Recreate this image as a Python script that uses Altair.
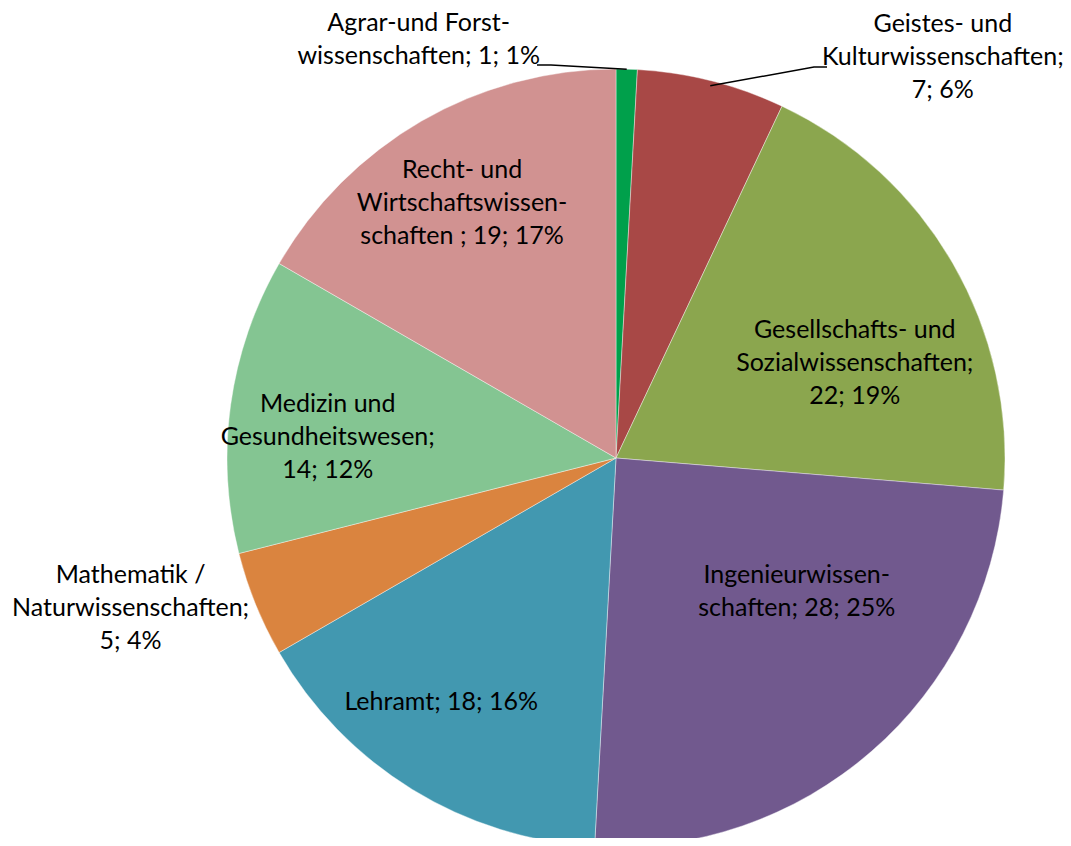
import altair as alt
import pandas as pd
import numpy as np

# ---- data ----
categories = [
    "Agrar- und Forstwissenschaften",
    "Geistes- und Kulturwissenschaften",
    "Gesellschafts- und Sozialwissenschaften",
    "Ingenieurwissenschaften",
    "Lehramt",
    "Mathematik / Naturwissenschaften",
    "Medizin und Gesundheitswesen",
    "Recht- und Wirtschaftswissenschaften",
]
values = [1, 7, 22, 28, 18, 5, 14, 19]
label_names = [
    "Agrar-und Forst-\nwissenschaften; ",
    "Geistes- und\nKulturwissenschaften;\n",
    "Gesellschafts- und\nSozialwissenschaften;\n",
    "Ingenieurwissen-\nschaften; ",
    "Lehramt; ",
    "Mathematik /\nNaturwissenschaften;\n",
    "Medizin und\nGesundheitswesen;\n",
    "Recht- und\nWirtschaftswissen-\nschaften ; ",
]
colors = ["#00A04B", "#A84846", "#8BA64E", "#71598E", "#4298B0", "#DA843F", "#84C592", "#D19291"]

# ---- layout ----
CX, CY, R = 608, 450, 389
LH = 33
label_angle_nudge = [-26.8, 25.0, 8.3, -12.4, 4.05, 4.95, -3.8, -1.1]   # degrees
label_radius = [463, 517, 257, 225, 300, 508, 289, 298]                 # pixels (block centre)
FONT = "Lato"

total = sum(values)
cum = np.cumsum(values)
mid_deg = [(c - v / 2) / total * 360 for c, v in zip(cum, values)]

labels = [f"{n}{v}; {round(v / total * 100)}%" for n, v in zip(label_names, values)]

# convert block-centre polar position to first-line polar position
l_theta, l_r = [], []
for m, d, r, t in zip(mid_deg, label_angle_nudge, label_radius, labels):
    a = np.radians(m + d)
    px, py = r * np.sin(a), -r * np.cos(a)
    py -= (t.count("\n")) * LH / 2
    l_r.append(float(np.hypot(px, py)))
    l_theta.append(float(np.arctan2(px, -py)))

df = pd.DataFrame({
    "category": categories,
    "value": values,
    "idx": list(range(len(values))),
    "label": labels,
    "label_theta": l_theta,
    "label_r": l_r,
})

def edge(i, r=R):
    a = np.radians(mid_deg[i])
    return CX + r * np.sin(a), CY - r * np.cos(a)

ax0, ay0 = edge(0)
gx0, gy0 = edge(1, 384)
lines = pd.DataFrame({
    "g": ["a", "a", "a", "b", "b", "b"],
    "o": [0, 1, 2, 0, 1, 2],
    "x": [ax0, 543, 529, gx0, 806, 819],
    "y": [ay0, 57, 57, gy0, 59, 59],
})

arcs = alt.Chart(df).mark_arc(radius=R, stroke="white", strokeWidth=0.4).encode(
    theta=alt.Theta("value:Q", stack=True),
    color=alt.Color("category:N", scale=alt.Scale(domain=categories, range=colors), legend=None),
    order=alt.Order("idx:Q"),
    x=alt.value(CX),
    y=alt.value(CY),
)

texts = alt.Chart(df).mark_text(
    font=FONT, fontSize=25, lineBreak="\n", lineHeight=LH,
    align="center", baseline="middle", color="#000000",
).encode(
    theta=alt.Theta("label_theta:Q", scale=None, stack=False),
    radius=alt.Radius("label_r:Q", scale=None),
    text="label:N",
    x=alt.value(CX),
    y=alt.value(CY),
)

leaders = alt.Chart(lines).mark_line(color="#000000", strokeWidth=1.5).encode(
    x=alt.X("x:Q", scale=None),
    y=alt.Y("y:Q", scale=None),
    detail="g:N",
    order="o:Q",
)

chart = alt.layer(arcs, leaders, texts).properties(
    width=1055, height=830, padding=0, autosize="none",
).configure_view(stroke=None)

chart.save("out.html", embed_options={"renderer": "svg", "actions": False})
